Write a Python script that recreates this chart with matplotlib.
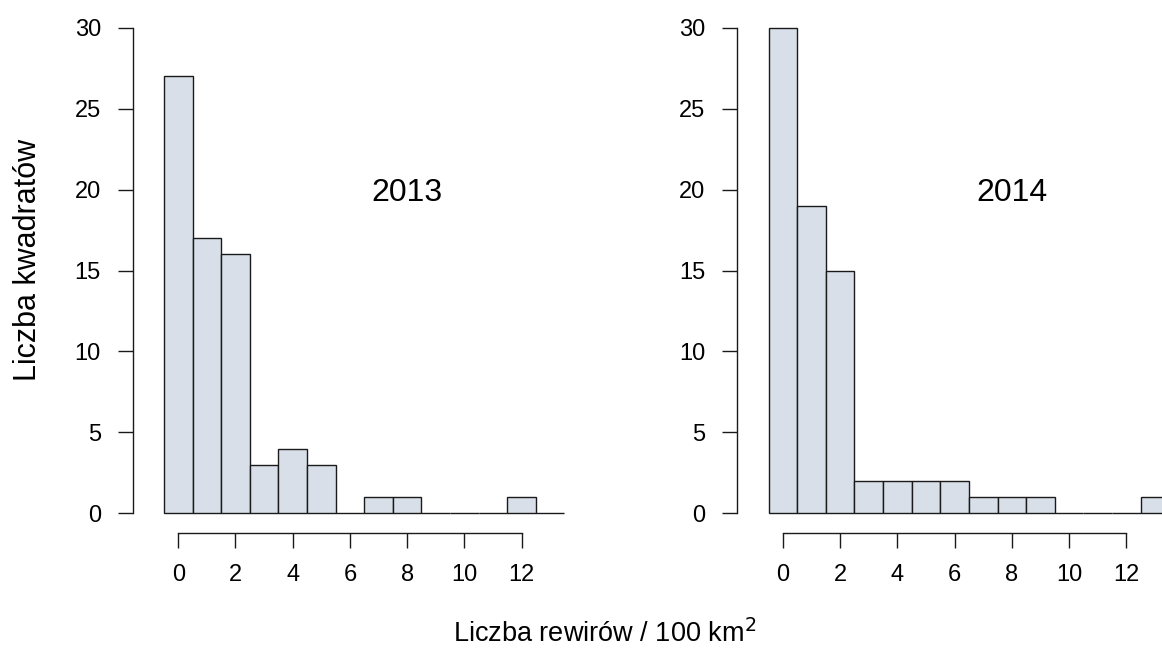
import numpy as np
import matplotlib
matplotlib.use("Agg")
from matplotlib import pyplot as plt

plt.rcParams['font.family'] = ['Liberation Sans', 'DejaVu Sans']

# counts per bin, bins of width 1 centred on 0, 1, ..., 13
bin_centers = list(range(14))
counts_2013 = [27, 17, 16, 3, 4, 3, 0, 1, 1, 0, 0, 0, 1, 0]
counts_2014 = [30, 19, 15, 2, 2, 2, 2, 1, 1, 1, 0, 0, 0, 1]
years = ["2013", "2014"]
x_ticks = [0, 2, 4, 6, 8, 10, 12]
y_ticks = [0, 5, 10, 15, 20, 25, 30]

fill = "#d8dfe8"
W, H = 1162, 652
fig = plt.figure(figsize=(W / 100, H / 100), dpi=100)

# axes boxes in pixels: left, top, right, bottom (right panel runs past the edge)
boxes = [(132.5, 8.5, 595.9, 532.7), (737.2, 8.5, 1200.6, 532.7)]

for (l, t, r, b), counts, year in zip(boxes, [counts_2013, counts_2014], years):
    ax = fig.add_axes([l / W, (H - b) / H, (r - l) / W, (b - t) / H])
    ax.bar(bin_centers, counts, width=1, color=fill, edgecolor="#1a1a1a",
           linewidth=1.0)
    ax.set_xlim(-1.6, 14.6)
    ax.set_ylim(-1.2, 31.2)
    for s in ["top", "right"]:
        ax.spines[s].set_visible(False)
    ax.spines["left"].set_bounds(0, 30)
    ax.spines["bottom"].set_bounds(0, 12)
    for s in ["left", "bottom"]:
        ax.spines[s].set_linewidth(1.0)
        ax.spines[s].set_color("#1a1a1a")
    ax.set_xticks(x_ticks)
    ax.set_yticks(y_ticks)
    ax.tick_params(direction="out", length=10.8, width=1.0, color="#1a1a1a",
                   labelsize=17)
    ax.tick_params(axis="x", pad=12)
    ax.tick_params(axis="y", pad=12)
    ax.text(8, 19.8, year, ha="center", va="center", fontsize=23)

fig.text(28 / W, 1 - 260 / H, "Liczba kwadratów", rotation=90,
         ha="center", va="center", fontsize=22)
fig.text(605 / W, 1 - 634 / H, "Liczba rewirów / 100 km$^2$",
         ha="center", va="center", fontsize=19.5)

fig.savefig("out.png", dpi=100)
